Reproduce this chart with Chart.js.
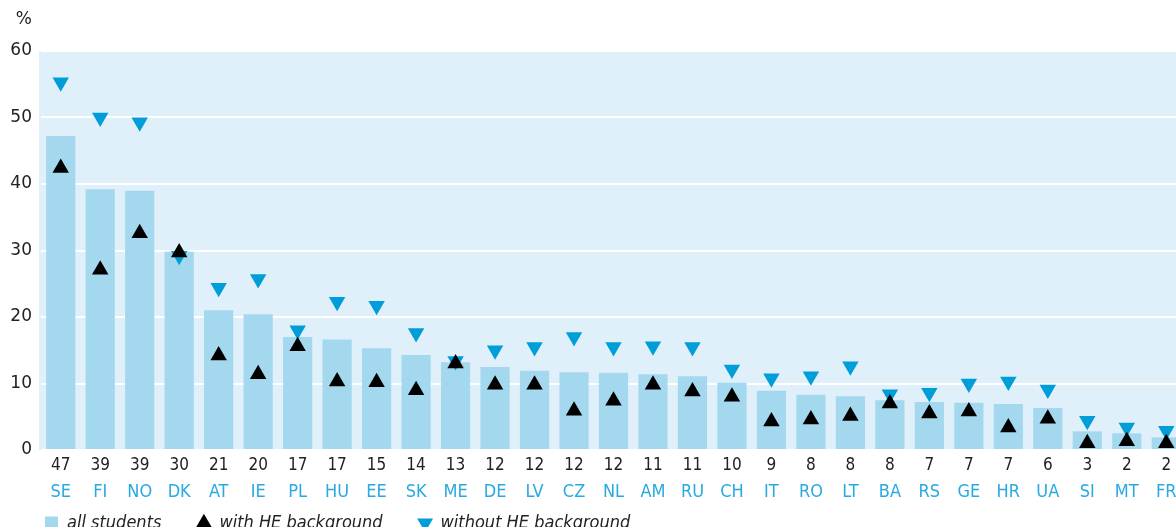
<!DOCTYPE html>
<html>
<head>
<meta charset="utf-8">
<script src="https://cdn.jsdelivr.net/npm/chart.js@4/dist/chart.umd.min.js"></script>
<style>
  html, body { margin: 0; padding: 0; background: #fff; overflow: hidden; }
  #wrap { position: relative; width: 1176px; height: 527px; overflow: hidden; }
  #chart { position: absolute; left: 0; top: 0; }
</style>
</head>
<body>
<div id="wrap"><canvas id="chart" width="1186" height="568"></canvas></div>
<script>
var countries = ['SE','FI','NO','DK','AT','IE','PL','HU','EE','SK','ME','DE','LV','CZ','NL','AM','RU','CH','IT','RO','LT','BA','RS','GE','HR','UA','SI','MT','FR'];
var allStudents = [47.2,39.2,39.0,29.8,21.0,20.4,17.0,16.6,15.3,14.3,13.2,12.5,11.9,11.7,11.6,11.4,11.1,10.1,8.9,8.3,8.1,7.5,7.2,7.1,6.9,6.3,2.8,2.5,1.9];
var withHE = [42.4,27.1,32.6,29.7,14.2,11.4,15.6,10.3,10.2,9.0,13.0,9.8,9.8,5.9,7.4,9.8,8.8,8.0,4.3,4.6,5.1,7.0,5.5,5.8,3.4,4.7,1.0,1.3,1.0];
var withoutHE = [55.3,50.0,49.3,29.2,24.4,25.7,18.0,22.3,21.7,17.6,13.4,15.0,15.5,17.0,15.5,15.6,15.5,12.1,10.8,11.1,12.6,8.4,8.6,10.0,10.3,9.1,4.4,3.4,2.9];
var valueLabels = ['47','39','39','30','21','20','17','17','15','14','13','12','12','12','12','11','11','10','9','8','8','8','7','7','7','6','3','2','2'];
var yTicks = [0,10,20,30,40,50,60];

var condensed = '"DejaVu Sans Condensed", "DejaVu Sans", sans-serif';

// light blue band behind the plot + the "%" unit
var bandPlugin = {
  id: 'band',
  beforeDraw: function(chart) {
    var a = chart.chartArea, ctx = chart.ctx;
    ctx.save();
    ctx.fillStyle = '#dff0fa';
    ctx.fillRect(a.left - 2, a.top, a.right - a.left + 2, a.bottom - a.top);
    ctx.restore();
  },
  afterLayout: function(chart) {
    // pull legend up closer to the axis labels
    chart.legend.top -= 26;
    chart.legend.bottom -= 26;
  },
  afterDraw: function(chart) {
    var y = chart.scales.y, ctx = chart.ctx;
    ctx.save();
    ctx.font = '17px "DejaVu Sans", sans-serif';
    ctx.fillStyle = '#222';
    ctx.textAlign = 'right';
    ctx.textBaseline = 'middle';
    ctx.fillText('%', y.right - 9, 20);
    ctx.restore();
  }
};

function noSidePadding(s) { s.paddingLeft = 0; s.paddingRight = 0; }

var ctx = document.getElementById('chart').getContext('2d');
var myChart = new Chart(ctx, {
  type: 'bar',
  data: {
    labels: countries,
    datasets: [{
      label: 'all students',
      data: allStudents,
      backgroundColor: '#a4d8ef',
      pointStyle: 'rect',
      barPercentage: 0.74,
      categoryPercentage: 1,
      order: 3
    }, {
      type: 'line',
      label: 'with HE background',
      data: withHE,
      showLine: false,
      pointStyle: 'triangle',
      pointRadius: 9.5,
      pointBorderWidth: 0,
      backgroundColor: '#000000',
      borderColor: '#000000',
      order: 1
    }, {
      type: 'line',
      label: 'without HE background',
      data: withoutHE,
      showLine: false,
      pointStyle: 'triangle',
      pointRotation: 180,
      pointRadius: 9.5,
      pointBorderWidth: 0,
      backgroundColor: '#009ed8',
      borderColor: '#009ed8',
      order: 2
    }]
  },
  options: {
    responsive: false,
    animation: false,
    layout: { autoPadding: false, padding: { top: 51, left: 9, right: 0, bottom: 0 } },
    plugins: {
      tooltip: { enabled: false },
      legend: {
        position: 'bottom',
        align: 'start',
        labels: {
          usePointStyle: true,
          boxWidth: 13,
          boxHeight: 13,
          padding: 36,
          color: '#222',
          font: { family: condensed, size: 18, style: 'italic' },
          sort: function(a, b) { return a.datasetIndex - b.datasetIndex; }
        }
      }
    },
    scales: {
      x: {
        afterFit: noSidePadding,
        grid: { display: false, drawTicks: false },
        border: { display: false },
        ticks: {
          autoSkip: false,
          maxRotation: 0,
          padding: 5,
          color: '#222',
          font: { family: condensed, size: 17 },
          callback: function(v, i) { return valueLabels[i]; }
        }
      },
      xc: {
        type: 'category',
        position: 'bottom',
        labels: countries,
        offset: true,
        weight: 1,
        afterFit: noSidePadding,
        grid: { display: false, drawTicks: false },
        border: { display: false },
        ticks: {
          autoSkip: false,
          maxRotation: 0,
          padding: 1,
          color: '#29a9e0',
          font: { family: condensed, size: 18 }
        }
      },
      y: {
        min: 0,
        max: 60,
        afterFit: function(s) { s.width = 32; },
        afterBuildTicks: function(s) { s.ticks = yTicks.map(function(v) { return { value: v }; }); },
        grid: { color: '#ffffff', lineWidth: 2, drawTicks: false },
        border: { display: false },
        ticks: {
          padding: 9,
          color: '#222',
          font: { family: '"DejaVu Sans", sans-serif', size: 17 }
        }
      }
    }
  },
  plugins: [bandPlugin]
});
</script>
</body>
</html>
